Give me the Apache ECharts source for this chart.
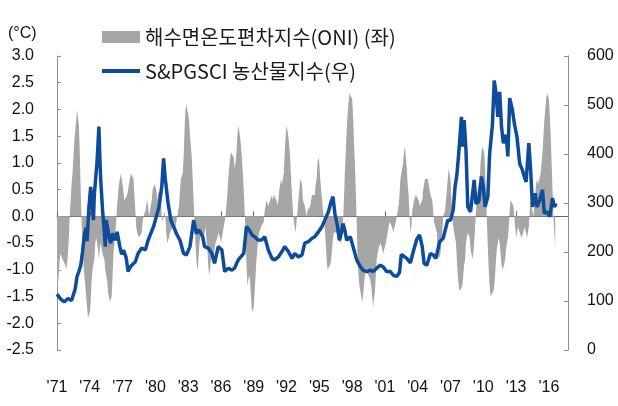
<!DOCTYPE html>
<html><head><meta charset="utf-8">
<script src="https://cdn.jsdelivr.net/npm/echarts@6/dist/echarts.min.js"></script>
<style>html,body{margin:0;padding:0;background:#fff}#c{width:618px;height:406px}</style>
</head><body><div id="c"></div>
<script>
// ---- data ----
const startYear = 1971;
const monthCount = 562; // Jan 1971 .. Oct 2017 (axis extent)
const tickLabels = ["'71","'74","'77","'80","'83","'86","'89","'92","'95","'98","'01","'04","'07","'10","'13","'16"];
const oniName = '해수면온도편차지수(ONI) (좌)';
const agriName = 'S&PGSCI 농산물지수(우)';

// ONI, monthly from Jan 1971
const oniValues = [
-1.4,-1.4,-1.1,-0.8,-0.7,-0.7,-0.8,-0.8,-0.8,-0.9,-1.0,-0.9,
-0.7,-0.4,0.0,0.3,0.6,0.8,1.1,1.4,1.6,1.8,2.0,2.0,
1.7,1.2,0.5,-0.1,-0.5,-0.9,-1.1,-1.3,-1.5,-1.7,-1.9,-1.9,
-1.8,-1.6,-1.2,-1.0,-0.9,-0.8,-0.5,-0.4,-0.4,-0.6,-0.8,-0.6,
-0.5,-0.6,-0.7,-0.7,-0.8,-1.0,-1.1,-1.2,-1.4,-1.4,-1.6,-1.6,
-1.5,-1.1,-0.7,-0.5,-0.3,-0.1,0.2,0.4,0.6,0.7,0.8,0.8,
0.6,0.6,0.3,0.3,0.3,0.4,0.4,0.6,0.7,0.8,0.8,0.8,
0.7,0.4,0.1,-0.2,-0.3,-0.3,-0.4,-0.4,-0.4,-0.3,-0.1,0.0,
0.0,0.1,0.2,0.3,0.2,0.0,0.0,0.2,0.3,0.5,0.5,0.6,
0.6,0.5,0.3,0.4,0.5,0.5,0.3,0.0,-0.1,0.0,0.1,0.0,
-0.3,-0.5,-0.5,-0.4,-0.3,-0.3,-0.3,-0.2,-0.2,-0.1,-0.2,-0.1,
0.0,0.1,0.2,0.5,0.7,0.7,0.8,1.1,1.6,2.0,2.1,2.1,
2.1,1.8,1.5,1.3,1.1,0.7,0.3,-0.1,-0.5,-0.8,-1.0,-0.9,
-0.6,-0.4,-0.3,-0.4,-0.5,-0.4,-0.3,-0.2,-0.2,-0.6,-0.9,-1.1,
-1.0,-0.8,-0.8,-0.8,-0.8,-0.6,-0.5,-0.5,-0.4,-0.3,-0.3,-0.4,
-0.5,-0.5,-0.3,-0.2,-0.1,0.0,0.2,0.4,0.7,0.9,1.1,1.2,
1.2,1.2,1.1,0.9,1.0,1.2,1.5,1.7,1.6,1.5,1.3,1.1,
0.8,0.5,0.1,-0.3,-0.9,-1.3,-1.3,-1.1,-1.2,-1.5,-1.8,-1.8,
-1.7,-1.4,-1.1,-0.8,-0.6,-0.4,-0.3,-0.3,-0.2,-0.2,-0.2,-0.1,
0.1,0.2,0.3,0.3,0.2,0.2,0.3,0.3,0.4,0.3,0.4,0.4,
0.4,0.3,0.2,0.3,0.5,0.6,0.7,0.6,0.6,0.8,1.2,1.5,
1.7,1.6,1.5,1.3,1.1,0.7,0.4,0.1,-0.1,-0.2,-0.3,-0.1,
0.1,0.3,0.5,0.7,0.7,0.6,0.3,0.3,0.2,0.1,0.0,0.1,
0.1,0.1,0.2,0.3,0.4,0.4,0.4,0.4,0.6,0.7,1.0,1.1,
1.0,0.7,0.5,0.3,0.1,0.0,-0.2,-0.5,-0.8,-1.0,-1.0,-1.0,
-0.9,-0.8,-0.6,-0.4,-0.3,-0.3,-0.3,-0.3,-0.4,-0.4,-0.4,-0.5,
-0.5,-0.4,-0.1,0.3,0.8,1.2,1.6,1.9,2.1,2.3,2.3,2.3,
2.2,1.9,1.4,1.0,0.5,-0.1,-0.8,-1.1,-1.3,-1.4,-1.5,-1.6,
-1.5,-1.3,-1.1,-1.0,-1.0,-1.0,-1.1,-1.1,-1.2,-1.3,-1.5,-1.7,
-1.7,-1.4,-1.1,-0.8,-0.7,-0.6,-0.6,-0.5,-0.5,-0.6,-0.7,-0.7,
-0.7,-0.5,-0.4,-0.3,-0.3,-0.1,-0.1,-0.1,-0.2,-0.3,-0.3,-0.3,
-0.1,0.0,0.1,0.2,0.4,0.7,0.8,0.9,1.0,1.2,1.3,1.1,
0.9,0.6,0.4,0.0,-0.3,-0.2,0.1,0.2,0.3,0.3,0.4,0.4,
0.4,0.3,0.2,0.2,0.2,0.3,0.5,0.6,0.7,0.7,0.7,0.7,
0.6,0.6,0.4,0.4,0.3,0.1,-0.1,-0.1,-0.1,-0.3,-0.6,-0.8,
-0.8,-0.7,-0.5,-0.3,0.0,0.0,0.1,0.3,0.5,0.7,0.9,0.9,
0.7,0.3,0.0,-0.2,-0.3,-0.4,-0.5,-0.8,-1.1,-1.3,-1.4,-1.4,
-1.4,-1.3,-1.1,-0.9,-0.8,-0.5,-0.4,-0.3,-0.3,-0.4,-0.6,-0.7,
-0.8,-0.7,-0.5,-0.2,0.1,0.4,0.5,0.5,0.7,1.0,1.2,1.3,
1.3,1.2,0.9,0.4,-0.1,-0.6,-1.0,-1.3,-1.5,-1.5,-1.5,-1.4,
-1.3,-1.1,-0.8,-0.6,-0.5,-0.4,-0.5,-0.7,-0.9,-1.0,-1.0,-0.9,
-0.8,-0.6,-0.5,-0.4,-0.2,0.1,0.3,0.3,0.3,0.2,0.0,-0.2,
-0.4,-0.3,-0.2,-0.2,-0.3,-0.3,-0.4,-0.4,-0.3,-0.2,-0.2,-0.3,
-0.4,-0.4,-0.2,0.1,0.3,0.2,0.1,0.0,0.2,0.4,0.6,0.7,
0.6,0.6,0.6,0.8,1.0,1.2,1.5,1.8,2.0,2.2,2.3,2.3,
2.2,1.9,1.5,1.0,0.5,0.0,-0.3,-0.6
];

// S&P GSCI agriculture index: month index (0 = Jan 1971) and value
const agriMonths = [0,4,8,12,16,18,20,22,24,26,28,30,32,33,35,37,38,40,41,42,44,46,47,48,50,52,53,54,56,57,59,61,64,66,69,71,73,76,78,80,82,86,89,93,97,100,103,106,109,112,115,117,119,122,125,128,131,135,139,142,146,150,153,156,160,162,166,170,173,177,181,184,188,192,195,199,205,208,211,214,217,221,225,228,232,236,239,243,247,250,254,258,261,265,269,272,276,280,283,287,291,294,298,301,303,305,308,310,312,314,316,318,322,325,329,333,336,340,344,347,351,355,358,362,366,369,373,376,378,380,384,388,391,395,398,401,403,406,410,413,416,420,424,426,429,432,435,437,439,441,444,445,447,449,451,454,456,458,460,463,466,468,470,473,475,478,480,482,484,486,488,490,493,495,497,500,502,505,508,511,513,515,518,520,522,525,527,530,533,535,538,541,544,546,548];
const agriValues = [114,104,98,105,101,102,125,150,160,172,200,235,250,222,290,333,305,265,318,340,385,456,395,347,286,240,211,265,245,231,218,238,224,241,211,195,204,188,160,168,173,180,197,208,204,224,238,252,272,292,333,391,347,299,265,252,238,224,197,194,211,265,238,245,231,211,208,197,177,211,204,160,167,163,167,184,197,252,245,235,231,224,225,231,204,187,184,190,201,211,201,187,197,190,194,218,221,228,231,241,252,265,282,303,313,279,252,224,238,258,245,224,231,211,184,170,163,160,163,160,167,173,170,160,160,153,150,158,195,197,187,178,200,226,235,211,177,173,197,194,187,221,228,224,265,265,286,333,357,401,476,415,469,408,292,282,279,347,299,303,354,333,292,313,401,459,550,524,476,527,456,422,439,395,514,490,463,435,380,367,354,343,422,367,292,320,292,306,327,279,282,272,310,292,299];

// ---- chart ----
const categories = [];
for (let i = 0; i < monthCount; i++) {
  const y = startYear + Math.floor(i / 12);
  categories.push(y + '-' + String(i % 12 + 1).padStart(2, '0'));
}
const GRAY = '#a6a6a6', BLUE = '#0d4c99', AXIS = '#8c8c8c';
const labelFont = { fontFamily: 'Arial, "Liberation Sans", sans-serif', fontSize: 16, color: '#111' };

const chart = echarts.init(document.getElementById('c'), null, { renderer: 'canvas' });
chart.setOption({
  animation: false,
  backgroundColor: '#fff',
  grid: { left: 57, right: 50, top: 56, bottom: 56 },
  legend: {
    orient: 'vertical', left: 95, top: 22,
    itemWidth: 38, itemHeight: 12, itemGap: 14,
    textStyle: { fontFamily: '"Noto Sans CJK KR", sans-serif', fontSize: 20, color: '#1a1a1a', lineHeight: 20 },
    data: [
      { name: oniName, icon: 'rect' },
      { name: agriName, itemStyle: { opacity: 0 }, lineStyle: { width: 4 } }
    ]
  },
  graphic: [{ type: 'text', left: 8, top: 26, style: { text: '(°C)', font: '16px Arial, "Liberation Sans", sans-serif', fill: '#111' } }],
  xAxis: [
    {
      type: 'category', data: categories, boundaryGap: false,
      axisLine: { onZero: true, onZeroAxisIndex: 0, lineStyle: { color: '#666', width: 1 } },
      axisTick: { inside: true, length: 5, interval: (i) => i % 36 === 0, lineStyle: { color: '#666' } },
      axisLabel: { show: false }, splitLine: { show: false }
    },
    {
      type: 'category', data: categories, boundaryGap: false, position: 'bottom',
      axisLine: { show: false, onZero: false }, axisTick: { show: false },
      axisLabel: Object.assign({ interval: (i) => i % 36 === 0, formatter: (v, i) => tickLabels[i / 36], margin: 30 }, labelFont),
      splitLine: { show: false }
    }
  ],
  yAxis: [
    {
      type: 'value', min: -2.5, max: 3, interval: 0.5, position: 'left',
      axisLine: { show: true, lineStyle: { color: AXIS } },
      axisTick: { show: true, inside: true, length: 4, lineStyle: { color: AXIS } },
      axisLabel: Object.assign({ formatter: (v) => v.toFixed(1), margin: 23 }, labelFont),
      splitLine: { show: false }
    },
    {
      type: 'value', min: 0, max: 600, interval: 100, position: 'right',
      axisLine: { show: true, lineStyle: { color: AXIS } },
      axisTick: { show: true, inside: true, length: 4, lineStyle: { color: AXIS } },
      axisLabel: Object.assign({ margin: 19 }, labelFont),
      splitLine: { show: false }
    }
  ],
  series: [
    {
      name: oniName, type: 'line', xAxisIndex: 0, yAxisIndex: 0, data: oniValues,
      symbol: 'none', lineStyle: { width: 0, color: GRAY }, itemStyle: { color: GRAY },
      areaStyle: { color: GRAY, opacity: 1 }, z: 1
    },
    {
      name: agriName, type: 'line', xAxisIndex: 0, yAxisIndex: 1,
      data: agriMonths.map((m, i) => [m, agriValues[i]]),
      symbol: 'none', lineStyle: { width: 3.5, color: BLUE }, itemStyle: { color: BLUE }, z: 3
    }
  ]
});
</script>
</body></html>
